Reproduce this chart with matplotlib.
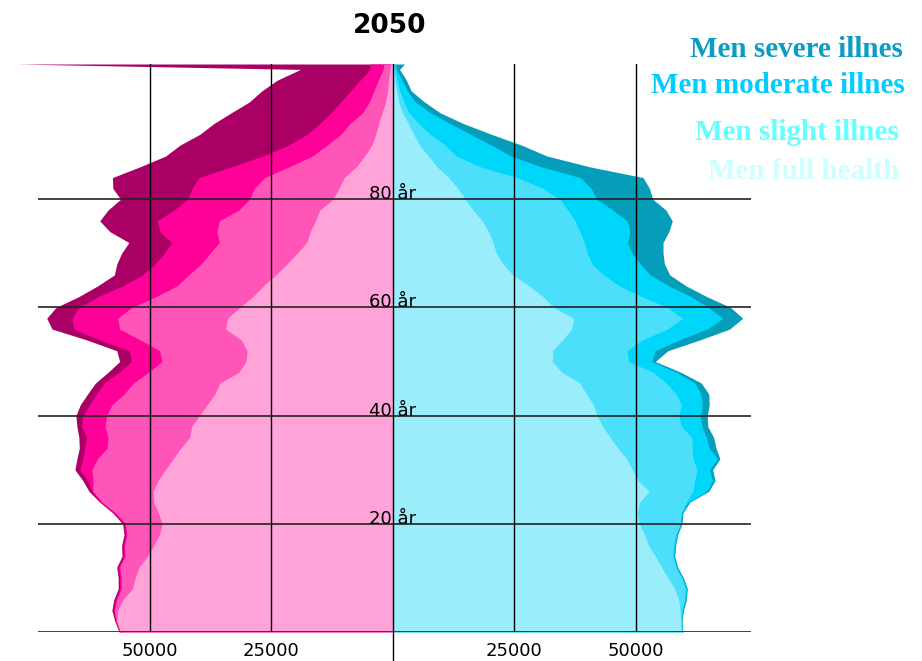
import matplotlib
matplotlib.use('Agg')
import matplotlib.pyplot as plt
import numpy as np

# age groups (years)
ages = [0, 2, 4, 6, 8, 10, 12, 14, 16, 18, 20, 22, 24, 26, 28, 30, 32, 34, 36, 38,
        40, 42, 44, 46, 48, 50, 52, 54, 56, 58, 60, 62, 64, 66, 68, 70, 72, 74, 76, 78,
        80, 82, 84, 86, 88, 90, 92, 94, 96, 98, 100, 102, 104, 105]

# women, cumulative: full health / + slight / + moderate / + severe
women_full = [56000, 56800, 56600, 55500, 53600, 53000, 52200, 50500, 49200, 48000,
              47500, 48200, 49200, 49300, 48300, 46800, 45200, 43600, 41800, 41400,
              39800, 38200, 36600, 35600, 31700, 30200, 30000, 31200, 34400, 34000,
              31500, 28800, 26600, 24100, 21800, 19700, 17700, 17000, 15900, 15000,
              12300, 11100, 10000, 7500, 5800, 4300, 3500, 2900, 2200, 1500,
              1100, 900, 600, 500]
women_slight = [56100, 56900, 57300, 56800, 55900, 55900, 56200, 55100, 55200, 54700,
                55000, 57000, 59800, 61700, 61700, 61900, 60800, 58800, 58600, 59200,
                58900, 57800, 55300, 53400, 50300, 47500, 48000, 52000, 56200, 56600,
                53700, 48700, 44400, 42000, 39500, 37600, 35700, 36200, 35700, 31700,
                29500, 28500, 26400, 21300, 16500, 13500, 10700, 8800, 6200, 4800,
                3900, 3000, 2000, 1800]
women_moderate = [56200, 57000, 57500, 57100, 56200, 56200, 56500, 55400, 55500, 55000,
                  55300, 57300, 60100, 61900, 62800, 64400, 63800, 63400, 63000, 64000,
                  63800, 62400, 61000, 59400, 56300, 53800, 54200, 60300, 65600, 66000,
                  64600, 60600, 55500, 51500, 49000, 47000, 45500, 47900, 48500, 45000,
                  42200, 41300, 39900, 33200, 26700, 21500, 17600, 15000, 12700, 10700,
                  8700, 6700, 4700, 4700]
women_severe = [56300, 57200, 57800, 57400, 56500, 56500, 56800, 55700, 55800, 55300,
                55600, 57600, 60300, 62500, 63800, 65400, 65000, 64500, 64600, 65000,
                65200, 64300, 62800, 61200, 58600, 56200, 56800, 63000, 70100, 71200,
                69300, 64600, 60700, 57300, 56800, 55800, 54300, 58200, 60300, 58600,
                56000, 57600, 57700, 52000, 46700, 43800, 39700, 36800, 33200, 29500,
                27000, 23800, 19000, 77500]

# men, cumulative in the same order
men_full = [59400, 59200, 59100, 58800, 58000, 56600, 55300, 54000, 52600, 51800,
            50700, 50300, 50800, 52700, 50500, 49300, 48100, 46300, 44700, 43200,
            42000, 41300, 39800, 38500, 34800, 32800, 32900, 34900, 36800, 37200,
            33100, 30900, 28000, 24700, 22700, 21300, 20600, 19700, 18400, 16500,
            14900, 13400, 11500, 9100, 7300, 5500, 4300, 3200, 2000, 1200,
            800, 400, 200, 100]
men_slight = [59500, 59300, 59400, 60000, 60200, 59400, 58200, 57600, 57800, 58200,
              59100, 59300, 60400, 61700, 62100, 62600, 61800, 61600, 61500, 59400,
              58800, 59400, 58300, 56300, 53600, 48500, 48200, 51400, 56500, 59600,
              56500, 51200, 46600, 43400, 41000, 40000, 39400, 38500, 37500, 36000,
              34400, 30900, 25600, 18000, 13000, 10800, 7700, 5300, 3300, 2300,
              1400, 900, 400, 300]
men_moderate = [59600, 59400, 59600, 60200, 60400, 59600, 58400, 57800, 58000, 58400,
                59300, 59500, 60800, 64600, 65800, 65200, 66800, 65100, 64500, 63600,
                63300, 63700, 63400, 62200, 58400, 53300, 54000, 59000, 64700, 67900,
                65000, 61300, 56800, 53000, 51000, 49200, 48300, 48800, 48200, 45300,
                42000, 40800, 38600, 30600, 24300, 20300, 16000, 11800, 7700, 4600,
                3000, 1900, 800, 500]
men_severe = [59700, 59500, 59800, 60400, 60600, 59800, 58600, 58000, 58200, 58600,
              59500, 59700, 61100, 65000, 66300, 65800, 67300, 66500, 66000, 64800,
              64700, 65100, 65000, 63500, 59300, 54000, 56600, 63200, 69300, 72000,
              69500, 64600, 60300, 57000, 55900, 55600, 55600, 56800, 57500, 56200,
              53500, 52800, 51500, 40500, 31700, 26500, 20300, 14500, 9700, 6500,
              3800, 2800, 1400, 2400]

women_colors = ['#ffa3d9', '#ff55b8', '#ff0099', '#aa0066']
men_colors = ['#9aeefc', '#4cdffc', '#00d5fa', '#049dba']

legend_labels = ['Men severe illnes', 'Men moderate illnes', 'Men slight illnes', 'Men full health']
legend_colors = ['#0a9cc4', '#00ccff', '#66ffff', '#ccffff']

fig = plt.figure(figsize=(9.22, 6.61), dpi=100)
ax = fig.add_axes([38/922, 29/661, 713/922, 568/661])

women = [women_full, women_slight, women_moderate, women_severe]
men = [men_full, men_slight, men_moderate, men_severe]

# outer layers first, inner ones painted over
for i in [3, 2, 1, 0]:
    ax.fill_betweenx(ages, 0, -np.array(women[i]), color=women_colors[i], lw=0, clip_on=False, zorder=1)
    ax.fill_betweenx(ages, 0, np.array(men[i]), color=men_colors[i], lw=0, clip_on=False, zorder=1)

ax.set_xlim(-73000, 73700)
ax.set_ylim(0, 105)

for v in [-50000, -25000, 0, 25000, 50000]:
    ax.axvline(v, color='black', lw=1, zorder=3)
for a in [0, 20, 40, 60, 80]:
    ax.axhline(a, color='#222222', lw=1.2, zorder=3)
ax.plot([0, 0], [0, -6], color='black', lw=1, clip_on=False, zorder=3)

for a in [20, 40, 60, 80]:
    ax.text(0, a, '%d år' % a, ha='center', va='baseline', fontsize=13, zorder=4)

ax.set_xticks([-50000, -25000, 25000, 50000])
ax.set_xticklabels(['50000', '25000', '25000', '50000'], fontsize=13)
ax.tick_params(axis='x', length=0, pad=7)
ax.set_yticks([])
for s in ax.spines.values():
    s.set_visible(False)

fig.text(390/922, 1 - 33/661, '2050', ha='center', va='baseline', fontsize=19, fontweight='bold')

legend_x = [903, 905, 899, 899]
legend_y = [57, 93, 140, 179]
for lab, c, x, y in zip(legend_labels, legend_colors, legend_x, legend_y):
    fig.text(x/922, 1 - y/661, lab, ha='right', va='baseline', fontsize=21,
             fontweight='bold', family='Liberation Serif', color=c)

fig.savefig('out.png', dpi=100)
